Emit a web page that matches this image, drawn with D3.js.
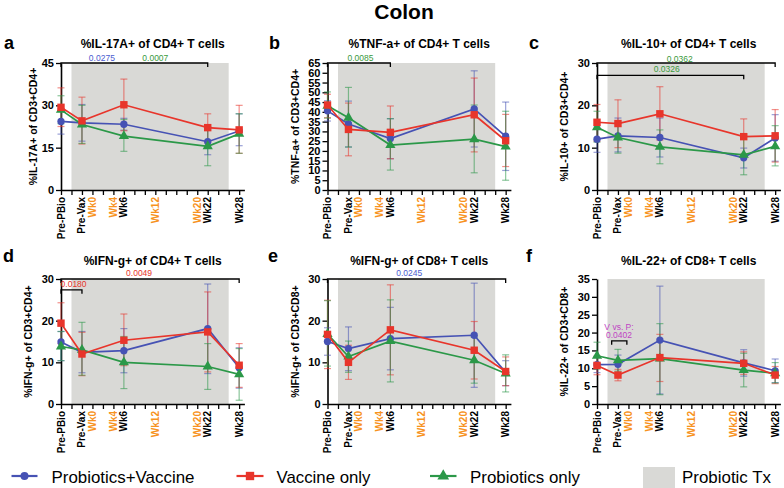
<!DOCTYPE html>
<html><head><meta charset="utf-8">
<script src="https://cdn.jsdelivr.net/npm/d3@7"></script>
<style>
body{margin:0;background:#fff;}
svg{display:block;font-family:"Liberation Sans",Arial,Helvetica,sans-serif;}
</style>
</head><body>
<svg id="chart" width="784" height="488"></svg>
<script>
// ---------- data ----------
const weekTicks = [-6,-4,-2,0,2,4,6,8,10,12,14,16,18,20,22,24,26,28];
const tickWeeks = [-6,-2,0,4,6,12,20,22,28];
const tickNames = ["Pre-PBio","Pre-Vax","Wk0","Wk4","Wk6","Wk12","Wk20","Wk22","Wk28"];
const orangeTicks = ["Wk0","Wk4","Wk12","Wk20"];
const timepoints = [-6,-2,6,22,28];
const shadeWeeks = [-4,26];
const seriesNames = ["Probiotics+Vaccine","Vaccine only","Probiotics only"];
const seriesColors = ["#4652b4","#e8352b","#2b9848"];
const seriesShapes = ["circle","square","triangle"];

// each entry: [mean, lower, upper] per timepoint
const il17_PV = [[24.3,19.8,28.8],[23.8,17.3,30.3],[23.3,21.2,25.4],[17.1,12.5,21.7],[20.9,15.7,27.0]];
const il17_V  = [[29.3,22.5,36.2],[24.5,16.3,32.9],[30.2,21.0,39.3],[22.1,17.0,27.0],[21.3,13.0,30.0]];
const il17_P  = [[28.4,23.5,33.4],[23.2,16.5,30.0],[19.1,13.7,25.0],[15.5,8.6,22.5],[19.9,13.0,27.0]];

const tnf_PV = [[40.5,35.3,45.7],[33.8,22.0,45.5],[26.3,16.0,36.5],[41.5,22.0,61.0],[27.5,10.0,45.0]];
const tnf_V  = [[43.5,37.0,49.0],[31.0,17.5,44.5],[29.5,16.0,43.0],[38.5,19.5,57.3],[25.2,12.0,38.7]];
const tnf_P  = [[43.1,36.8,50.2],[37.0,22.0,52.5],[23.0,10.2,36.5],[26.0,8.8,43.5],[22.2,5.0,40.3]];

const il10_PV = [[12.0,8.9,15.1],[12.8,9.0,17.0],[12.4,7.8,17.0],[7.6,5.2,9.9],[12.3,6.8,17.8]];
const il10_V  = [[16.0,11.5,20.2],[15.7,10.0,21.3],[18.0,11.8,24.4],[12.6,8.5,16.8],[12.8,6.6,19.0]];
const il10_P  = [[14.8,11.3,18.6],[12.4,8.7,16.0],[10.2,6.2,14.2],[8.3,3.6,13.0],[10.3,5.7,15.2]];

const ifn4_PV = [[14.9,10.4,17.4],[12.4,7.5,17.4],[12.8,7.5,18.1],[18.1,7.3,28.8],[8.7,3.8,13.5]];
const ifn4_V  = [[19.4,14.5,24.3],[12.0,6.8,17.2],[15.3,9.2,21.6],[17.3,7.7,26.9],[9.3,4.0,14.5]];
const ifn4_P  = [[13.8,10.4,17.4],[13.0,6.9,19.6],[10.0,3.7,16.2],[9.0,3.5,14.5],[7.1,0.9,13.3]];

const ifn8_PV = [[15.0,11.7,18.3],[13.3,8.0,18.5],[15.7,8.2,23.2],[16.5,4.0,29.0],[7.6,4.4,10.4]];
const ifn8_V  = [[16.7,8.5,24.9],[10.0,5.9,14.1],[17.8,7.0,28.6],[12.9,6.0,19.8],[7.8,4.4,11.3]];
const ifn8_P  = [[16.8,9.1,24.8],[11.4,7.6,15.1],[15.1,5.3,25.0],[10.5,5.0,16.0],[7.3,2.9,11.8]];

const il22_PV = [[11.0,8.8,13.2],[11.1,8.5,13.7],[17.9,2.8,33.0],[11.5,7.8,15.2],[9.3,6.0,12.6]];
const il22_V  = [[10.8,8.2,13.4],[8.1,6.5,9.7],[13.0,6.3,19.5],[11.4,8.3,14.6],[8.1,5.7,10.5]];
const il22_P  = [[13.5,9.8,17.3],[12.2,9.2,15.3],[12.7,2.6,22.5],[9.5,4.8,14.2],[8.6,5.9,11.6]];

const panelLetters = ["a","b","c","d","e","f"];
const panelTitles = ["%IL-17A+ of CD4+ T cells","%TNF-a+ of CD4+ T cells","%IL-10+ of CD4+ T cells",
                     "%IFN-g+ of CD4+ T cells","%IFN-g+ of CD8+ T cells","%IL-22+ of CD8+ T cells"];
const yLabels = ["%IL-17A+ of CD3+CD4+","%TNF-a+ of CD3+CD4+","%IL-10+ of CD3+CD4+",
                 "%IFN-g+ of CD3+CD4+","%IFN-g+ of CD3+CD8+","%IL-22+ of CD3+CD8+"];
const yMax = [45,65,30,30,30,35];
const yStep = [15,5,10,10,10,5];
const panelData = [[il17_PV,il17_V,il17_P],[tnf_PV,tnf_V,tnf_P],[il10_PV,il10_V,il10_P],
                   [ifn4_PV,ifn4_V,ifn4_P],[ifn8_PV,ifn8_V,ifn8_P],[il22_PV,il22_V,il22_P]];

// brackets: [panel, from week, to week, y value]
const brackets = [[0,-6,22,45],[1,-6,6,65],[2,-6,28,30],[2,-6,22,27.1],[3,-6,28,30],[3,-6,-2,27.4],[4,-6,28,30],[5,-3.2,-0.3,17.7]];
// p-value notes: [panel, week, y value, text, colour, pixel shift]
const noteColors = {blue:"#4b5bd0", green:"#3a9a3c", red:"#e8352b", magenta:"#c044c4"};
const notes = [[0,1.8,45,"0.0275","blue",-2],[0,12,45,"0.0007","green",-2],
               [1,0.3,65,"0.0085","green",-2],
               [2,9.8,30,"0.0362","green",-1],[2,7.3,27.1,"0.0326","green",-3],
               [3,8.9,30,"0.0049","red",-3.5],[3,-3.6,27.4,"0.0180","red",-2.5],
               [4,9.6,30,"0.0245","blue",-3.5],
               [5,-1.8,17.7,"V vs. P:","magenta",-11],[5,-1.8,17.7,"0.0402","magenta",-3]];

// ---------- layout ----------
const svg = d3.select("#chart");
const colX0 = [61, 327.5, 597];
const rowTop = [63, 279], rowBot = [190, 404];
const wkPx = 5.24;
const letterPos = [[4,49],[269,49],[529,49],[3,262],[268,262],[526,262]];
const titleY = [48, 265];
const yLabelOffset = [24,29,29,29,29,29];

svg.append("text").attr("x",404).attr("y",19).attr("text-anchor","middle")
  .attr("font-size",21).attr("font-weight","bold").text("Colon");

function symbol(shape, size){
  const t = shape==="circle"?d3.symbolCircle:shape==="square"?d3.symbolSquare:d3.symbolTriangle;
  return d3.symbol().type(t).size(size)();
}

const scales = [];
panelData.forEach((series, i) => {
  const col = i%3, row = Math.floor(i/3);
  const x0 = colX0[col];
  const x = d3.scaleLinear().domain([-6,29]).range([x0, x0 + 35*wkPx]);
  const y = d3.scaleLinear().domain([0,yMax[i]]).range([rowBot[row], rowTop[row]]);
  scales.push({x,y});
  const g = svg.append("g");

  g.append("rect").attr("x",x(shadeWeeks[0])).attr("y",y(yMax[i]))
    .attr("width",x(shadeWeeks[1])-x(shadeWeeks[0])).attr("height",y(0)-y(yMax[i]))
    .attr("fill","#d9d9d6");

  const gx = g.append("g").attr("transform",`translate(0,${y(0)})`)
    .call(d3.axisBottom(x).tickValues(weekTicks).tickSize(5).tickSizeOuter(0).tickFormat(""));
  gx.select(".domain").attr("stroke","#000").attr("stroke-width",1.6);
  gx.selectAll(".tick line").attr("stroke","#000").attr("stroke-width",1.3);

  tickWeeks.forEach((w,k) => {
    g.append("text").attr("transform",`translate(${x(w)},${y(0)+7}) rotate(-90)`)
      .attr("text-anchor","end").attr("dy","0.35em")
      .attr("font-size",10).attr("font-weight","bold")
      .attr("fill", orangeTicks.includes(tickNames[k]) ? "#f7931e" : "#000")
      .text(tickNames[k]);
  });

  const gy = g.append("g").attr("transform",`translate(${x0},0)`)
    .call(d3.axisLeft(y).tickValues(d3.range(0,yMax[i]+0.01,yStep[i])).tickSize(5).tickSizeOuter(0).tickPadding(2));
  gy.select(".domain").attr("stroke","#000").attr("stroke-width",1.6);
  gy.selectAll(".tick line").attr("stroke","#000").attr("stroke-width",1.3);
  gy.selectAll(".tick text").attr("font-size",11).attr("font-weight","bold").attr("fill","#000")
    .attr("font-family","Liberation Sans, Arial, sans-serif");

  const cx = (x0 + x(29))/2;
  g.append("text").attr("x",cx).attr("y",titleY[row]).attr("text-anchor","middle")
    .attr("font-size",12).attr("font-weight","bold").text(panelTitles[i]);
  g.append("text").attr("x",letterPos[i][0]).attr("y",letterPos[i][1])
    .attr("font-size",18).attr("font-weight","bold").text(panelLetters[i]);
  g.append("text").attr("transform",`translate(${x0-yLabelOffset[i]},${(rowTop[row]+rowBot[row])/2}) rotate(-90)`)
    .attr("text-anchor","middle").attr("font-size",10.5).attr("font-weight","bold").text(yLabels[i]);

  // error bars
  series.forEach((s, si) => {
    s.forEach((d, k) => {
      const px = x(timepoints[k]);
      const eb = g.append("g").attr("stroke",seriesColors[si]).attr("stroke-opacity",0.55).attr("stroke-width",1.2);
      eb.append("line").attr("x1",px).attr("x2",px).attr("y1",y(d[1])).attr("y2",y(d[2]));
      eb.append("line").attr("x1",px-3.5).attr("x2",px+3.5).attr("y1",y(d[1])).attr("y2",y(d[1]));
      eb.append("line").attr("x1",px-3.5).attr("x2",px+3.5).attr("y1",y(d[2])).attr("y2",y(d[2]));
    });
  });
  // lines & markers (blue, green, red on top)
  [0,2,1].forEach(si => {
    const s = series[si];
    const line = d3.line().x((d,k)=>x(timepoints[k])).y(d=>y(d[0]));
    g.append("path").datum(s).attr("d",line).attr("fill","none")
      .attr("stroke",seriesColors[si]).attr("stroke-width",1.7);
    const sz = si===0?42:si===1?55:45;
    s.forEach((d,k) => {
      g.append("path").attr("d",symbol(seriesShapes[si],sz))
        .attr("transform",`translate(${x(timepoints[k])},${y(d[0])})`)
        .attr("fill",seriesColors[si]);
    });
  });
});

// brackets
brackets.forEach(b => {
  const {x,y} = scales[b[0]];
  const yy = y(b[3]);
  svg.append("path")
    .attr("d",`M${x(b[1])},${yy+4}V${yy}H${x(b[2])}V${yy+4}`)
    .attr("fill","none").attr("stroke","#000").attr("stroke-width",1.3);
});
notes.forEach(n => {
  const {x,y} = scales[n[0]];
  svg.append("text").attr("x",x(n[1])).attr("y",y(n[2])+n[5]).attr("text-anchor","middle")
    .attr("font-size",8.5).attr("fill",noteColors[n[4]]).text(n[3]);
});

// legend
const legY = 476;
const legItems = [
  {x1:11.5, x2:37.5, tx:51.5, tw:143},
  {x1:236.5, x2:263.5, tx:276.5, tw:94},
  {x1:430, x2:456.5, tx:470, tw:110}
];
legItems.forEach((it, si) => {
  svg.append("line").attr("x1",it.x1).attr("x2",it.x2).attr("y1",legY).attr("y2",legY)
    .attr("stroke",seriesColors[si]).attr("stroke-width",2.2);
  const sz = si===0?50:si===1?70:60;
  svg.append("path").attr("d",symbol(seriesShapes[si],sz))
    .attr("transform",`translate(${(it.x1+it.x2)/2},${legY})`).attr("fill",seriesColors[si]);
  svg.append("text").attr("x",it.tx).attr("y",483).attr("font-size",17)
    .attr("textLength",it.tw).attr("lengthAdjust","spacingAndGlyphs").text(seriesNames[si]);
});
svg.append("rect").attr("x",643).attr("y",467).attr("width",32).attr("height",21).attr("fill","#d9d9d6");
svg.append("text").attr("x",682).attr("y",483).attr("font-size",17)
  .attr("textLength",89).attr("lengthAdjust","spacingAndGlyphs").text("Probiotic Tx");
</script>
</body></html>
